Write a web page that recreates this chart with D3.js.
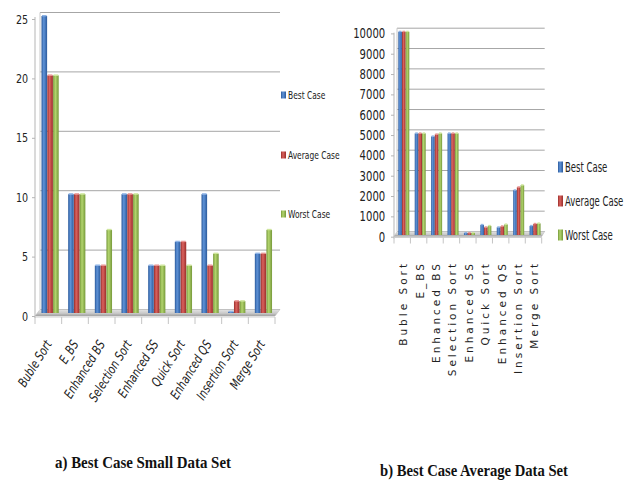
<!DOCTYPE html>
<html>
<head>
<meta charset="utf-8">
<script src="https://cdn.jsdelivr.net/npm/d3@7"></script>
<style>
  html, body { margin: 0; padding: 0; background: #fff; }
  svg { display: block; }
</style>
</head>
<body>
<svg id="chart" width="630" height="483"></svg>
<script>
// Sorting algorithm timings, two data-set sizes
const categories = ["Buble Sort", "E_BS", "Enhanced BS", "Selection Sort", "Enhanced SS",
                    "Quick Sort", "Enhanced QS", "Insertion Sort", "Merge Sort"];
const seriesNames = ["Best Case", "Average Case", "Worst Case"];

// a) small data set
const smallBest    = [25, 10, 4, 10, 4, 6, 10, 0.1, 5];
const smallAverage = [20, 10, 4, 10, 4, 6, 4, 1, 5];
const smallWorst   = [20, 10, 7, 10, 4, 4, 5, 1, 7];
const smallTicks   = [0, 5, 10, 15, 20, 25];

// b) average data set
const avgBest    = [10000, 5000, 4850, 5000, 100, 500, 380, 2200, 450];
const avgAverage = [10000, 5000, 4950, 5000, 100, 380, 430, 2350, 550];
const avgWorst   = [10000, 5000, 5000, 5000, 100, 450, 520, 2450, 570];
const avgTicks   = [0, 1000, 2000, 3000, 4000, 5000, 6000, 7000, 8000, 9000, 10000];

const captions = ["a) Best Case Small Data Set", "b) Best Case Average Data Set"];

const palette = [
  { dark: "#2b5a9b", light: "#5f93d8", top: "#8fb4e6" },
  { dark: "#9a2d2a", light: "#da625e", top: "#e99593" },
  { dark: "#76993a", light: "#b3d56e", top: "#cfe69d" }
];

const svg = d3.select("#chart");
const narrow = "'Liberation Sans Narrow', 'DejaVu Sans Condensed', 'Arial Narrow', sans-serif";

// cylinder-like shading for each series
const defs = svg.append("defs");
palette.forEach((c, i) => {
  const g = defs.append("linearGradient").attr("id", "bar" + i)
    .attr("x1", "0%").attr("x2", "100%").attr("y1", "0%").attr("y2", "0%");
  g.append("stop").attr("offset", "0%").attr("stop-color", c.dark);
  g.append("stop").attr("offset", "40%").attr("stop-color", c.light);
  g.append("stop").attr("offset", "100%").attr("stop-color", c.dark);
});
const floorGrad = defs.append("linearGradient").attr("id", "floor")
  .attr("x1", "0%").attr("x2", "0%").attr("y1", "0%").attr("y2", "100%");
floorGrad.append("stop").attr("offset", "0%").attr("stop-color", "#e4e4e4");
floorGrad.append("stop").attr("offset", "60%").attr("stop-color", "#c8c8c8");
floorGrad.append("stop").attr("offset", "100%").attr("stop-color", "#9a9a9a");

function drawChart(cfg) {
  const g = svg.append("g");
  const x = d3.scaleBand().domain(categories).range(cfg.xRange).paddingInner(0).paddingOuter(0);
  const y = d3.scaleLinear().domain(cfg.domain).range(cfg.yRange);
  const depthX = cfg.depth[0], depthY = cfg.depth[1];
  const xl = cfg.xRange[0], xr = cfg.xRange[1];

  // back wall gridlines
  g.append("g").selectAll("line").data(cfg.ticks).join("line")
    .attr("x1", xl + depthX).attr("x2", xr + depthX)
    .attr("y1", d => y(d) - depthY).attr("y2", d => y(d) - depthY)
    .attr("stroke", "#a6a6a6").attr("stroke-width", 1);
  // back wall edge
  g.append("line")
    .attr("x1", xl + depthX).attr("x2", xl + depthX)
    .attr("y1", y(cfg.domain[1]) - depthY).attr("y2", y(0) - depthY)
    .attr("stroke", "#c8c8c8");

  // floor
  const y0 = y(0);
  g.append("path")
    .attr("d", `M${xl},${y0 + cfg.floorFront} L${xr},${y0 + cfg.floorFront} L${xr + depthX},${y0 - depthY} L${xl + depthX},${y0 - depthY} Z`)
    .attr("fill", "url(#floor)").attr("stroke", "#bdbdbd").attr("stroke-width", 0.5);

  // front value axis with its labels
  const axis = d3.axisLeft(y).tickValues(cfg.ticks).tickSize(cfg.tickLen).tickPadding(cfg.labelPad)
    .tickFormat(d3.format("d"));
  const ax = g.append("g").attr("transform", `translate(${xl},${cfg.axisShift})`).call(axis);
  ax.select(".domain").attr("stroke", "#b5b5b5")
    .attr("d", `M0,${y(cfg.domain[1]) - cfg.axisShift + 1}V${y0 + cfg.floorFront - cfg.axisShift + 2}`);
  ax.selectAll(".tick line").attr("stroke", "#b5b5b5");
  ax.selectAll(".tick text")
    .attr("font-family", narrow).attr("font-size", cfg.tickFont).attr("fill", "#222")
    .attr("transform", `scale(${cfg.tickScale},1)`);

  // category axis under the floor
  const baseY = y0 + cfg.floorFront + 1;
  g.append("line").attr("x1", xl).attr("x2", xr).attr("y1", baseY).attr("y2", baseY)
    .attr("stroke", "#cfcfcf");
  const edges = categories.map(c => x(c)).concat([xr]);
  g.append("g").selectAll("line").data(edges).join("line")
    .attr("x1", d => d).attr("x2", d => d)
    .attr("y1", baseY).attr("y2", baseY + cfg.catTick)
    .attr("stroke", "#c4c4c4");

  // bars
  const series = cfg.series;
  series.forEach((vals, s) => {
    const bars = g.append("g");
    bars.selectAll("rect.body").data(vals).join("rect").attr("class", "body")
      .attr("x", (d, i) => x(categories[i]) + cfg.barOffset + s * cfg.barStep)
      .attr("width", cfg.barWidth)
      .attr("y", d => y(d))
      .attr("height", d => Math.max(0.8, y0 - y(d)))
      .attr("fill", `url(#bar${s})`);
    bars.selectAll("rect.cap").data(vals).join("rect").attr("class", "cap")
      .attr("x", (d, i) => x(categories[i]) + cfg.barOffset + s * cfg.barStep + 0.5)
      .attr("width", cfg.barWidth - 1)
      .attr("y", d => y(d) - 1)
      .attr("height", 1.4)
      .attr("fill", palette[s].top);
  });

  // category labels
  const lab = g.append("g");
  categories.forEach(c => {
    const cx = x(c) + x.bandwidth() / 2 + cfg.labelDx;
    lab.append("text")
      .attr("transform", `translate(${cx},${cfg.labelY}) rotate(${cfg.labelAngle}) scale(${cfg.labelScale},1)`)
      .attr("text-anchor", "end")
      .attr("font-family", cfg.labelFamily)
      .attr("font-style", cfg.labelItalic ? "italic" : "normal")
      .attr("font-size", cfg.labelFont)
      .attr("letter-spacing", cfg.labelSpacing)
      .attr("fill", "#222")
      .text(c);
  });

  // legend
  const leg = g.append("g");
  seriesNames.forEach((n, s) => {
    const ly = cfg.legendY[s];
    leg.append("rect")
      .attr("x", cfg.legendX).attr("y", ly - cfg.swatch[1] / 2)
      .attr("width", cfg.swatch[0]).attr("height", cfg.swatch[1])
      .attr("fill", `url(#bar${s})`);
    leg.append("text")
      .attr("transform", `translate(${cfg.legendX + cfg.swatch[0] + 2},${ly}) scale(${cfg.legendScale},1)`)
      .attr("dy", "0.35em")
      .attr("font-family", narrow).attr("font-size", cfg.legendFont).attr("fill", "#222")
      .text(n);
  });
}

drawChart({
  series: [smallBest, smallAverage, smallWorst],
  domain: [0, 25], ticks: smallTicks,
  xRange: [35, 275], yRange: [313, 16],
  depth: [5, 3.5], floorFront: 3, axisShift: 3,
  tickLen: 3, labelPad: 5, tickFont: "12.5px", tickScale: 0.85,
  catTick: 7,
  barOffset: 6.5, barStep: 5.8, barWidth: 5.6,
  labelDx: 4, labelY: 344, labelAngle: -58, labelScale: 0.85,
  labelFamily: narrow, labelItalic: true, labelFont: "13px", labelSpacing: 0,
  legendX: 281, legendY: [95, 155, 214], swatch: [5, 7], legendFont: "11px", legendScale: 0.76
});

drawChart({
  series: [avgBest, avgAverage, avgWorst],
  domain: [0, 10000], ticks: avgTicks,
  xRange: [394, 541.7], yRange: [235, 31.7],
  depth: [3, 3.5], floorFront: 1.5, axisShift: 1.7,
  tickLen: 3, labelPad: 8, tickFont: "14px", tickScale: 0.8,
  catTick: 6,
  barOffset: 4.3, barStep: 3.7, barWidth: 3.6,
  labelDx: 5, labelY: 261, labelAngle: -90, labelScale: 1,
  labelFamily: "'DejaVu Sans', Verdana, sans-serif", labelItalic: false, labelFont: "10.5px", labelSpacing: 3,
  legendX: 558, legendY: [167, 201, 235], swatch: [5, 11], legendFont: "13.5px", legendScale: 0.7
});

// panel captions
const capFont = "'Liberation Serif', 'Times New Roman', serif";
[[55, 468, 176], [380, 476, 188]].forEach((p, i) => {
  svg.append("text")
    .attr("x", p[0]).attr("y", p[1])
    .attr("font-family", capFont).attr("font-weight", "bold").attr("font-size", "16.5px")
    .attr("textLength", p[2]).attr("lengthAdjust", "spacingAndGlyphs")
    .attr("fill", "#111")
    .text(captions[i]);
});
</script>
</body>
</html>
